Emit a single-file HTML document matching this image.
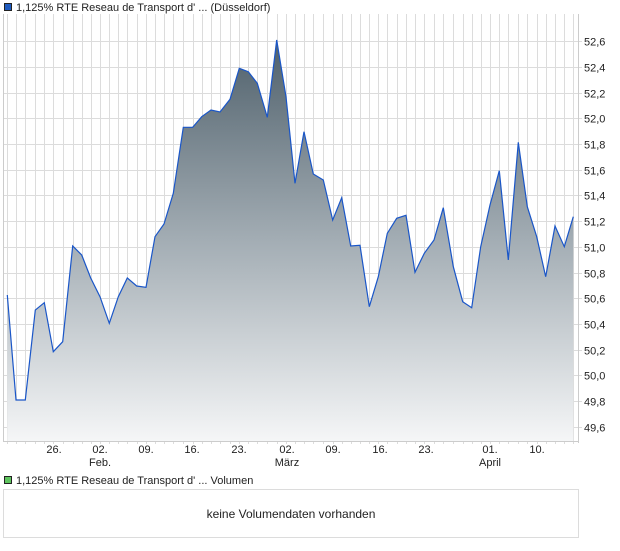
<!DOCTYPE html>
<html><head><meta charset="utf-8"><style>
body{margin:0;background:#fff;width:620px;height:546px;overflow:hidden;font-family:"Liberation Sans",sans-serif;}
</style></head><body>
<svg width="620" height="546" xmlns="http://www.w3.org/2000/svg" font-family="Liberation Sans, sans-serif">
<defs>
<linearGradient id="g" x1="0" y1="40" x2="0" y2="441" gradientUnits="userSpaceOnUse">
<stop offset="0" stop-color="#4f606b"/>
<stop offset="0.5" stop-color="#a3adb4"/>
<stop offset="1" stop-color="#f5f6f7"/>
</linearGradient>
</defs>
<rect x="4.5" y="3.5" width="7" height="7" fill="#1f5bbf" stroke="#222" stroke-width="1"/>
<text x="16" y="11" font-size="11" fill="#222">1,125% RTE Reseau de Transport d' ... (Düsseldorf)</text>
<g stroke="#dcdcdc" stroke-width="1" id="grid"></g>
<polygon id="area" fill="url(#g)"/>
<polyline id="line" fill="none" stroke="#1a56c8" stroke-width="1.2"/>
<line x1="3.5" y1="14" x2="3.5" y2="441" stroke="#ccc"/>
<line x1="578.5" y1="14" x2="578.5" y2="443" stroke="#ccc"/>
<line x1="3" y1="441.5" x2="579" y2="441.5" stroke="#ccc"/>
<g id="yl" font-size="11" fill="#222"></g>
<g id="xl" font-size="11" fill="#222" text-anchor="middle">
<text x="54" y="453">26.</text>
<text x="100" y="453">02.</text><text x="100" y="466">Feb.</text>
<text x="146" y="453">09.</text>
<text x="192" y="453">16.</text>
<text x="239" y="453">23.</text>
<text x="287" y="453">02.</text><text x="287" y="466">März</text>
<text x="333" y="453">09.</text>
<text x="380" y="453">16.</text>
<text x="426" y="453">23.</text>
<text x="490" y="453">01.</text><text x="490" y="466">April</text>
<text x="537" y="453">10.</text>
</g>
<rect x="4.5" y="476.5" width="7" height="7" fill="#5ec45e" stroke="#222" stroke-width="1"/>
<text x="16" y="484" font-size="11" fill="#222">1,125% RTE Reseau de Transport d' ... Volumen</text>
<rect x="3.5" y="489.5" width="575" height="48" fill="#fff" stroke="#dcdcdc"/>
<text x="291" y="518" font-size="12" fill="#222" text-anchor="middle">keine Volumendaten vorhanden</text>
</svg>
<script>
var pts=[[7.3,295],[16,400],[25.3,400],[35.3,310],[44.3,302.7],[53.3,351.7],[62.7,341.7],[72.7,246],[81.7,255],[90.7,278],[100,296.7],[109.3,323.3],[118.3,296.7],[127.3,278],[136.7,286],[146,287.3],[155,236.7],[164,224],[173.3,193.3],[183.3,127.3],[192.7,127.3],[201.7,116.7],[211,110],[220,112],[230,99.3],[239.3,68.3],[248.3,71.7],[257.3,83.3],[267.3,117.3],[276.7,40],[286,96.7],[295,183.3],[304,131.7],[313.3,174],[323.3,180],[332.7,220],[341.7,197.7],[350.7,246],[360,245.3],[369.3,306.7],[378.3,276.7],[387.3,233.3],[396.7,218.3],[406,215.3],[415,272.3],[424.3,253.3],[434,240],[443.3,207.7],[453.3,266.7],[462.7,301.7],[471.7,307.7],[480.7,246.7],[490,205],[499.3,170.7],[508.3,260],[518.3,142.3],[527.3,206.7],[536.7,236.7],[545.7,276.7],[555,226],[564.3,246.7],[573.3,216.7]];
var s=pts.map(p=>p.join(',')).join(' ');
document.getElementById('line').setAttribute('points',s);
document.getElementById('area').setAttribute('points','7.3,441 '+s+' 573.3,441');
var NS="http://www.w3.org/2000/svg",g=document.getElementById('grid'),yl=document.getElementById('yl');
for(var i=0;i<=15;i++){var y=Math.round(41.2+i*25.7)+0.5;var l=document.createElementNS(NS,'line');l.setAttribute('x1',3);l.setAttribute('x2',582);l.setAttribute('y1',y);l.setAttribute('y2',y);g.appendChild(l);
var t=document.createElementNS(NS,'text');t.setAttribute('x',584);t.setAttribute('y',y+4);t.textContent=(52.6-i*0.2).toFixed(1).replace('.',',');yl.appendChild(t);}
for(var i=0;i<pts.length;i++){var x=Math.round(pts[i][0])+0.5;var l=document.createElementNS(NS,'line');l.setAttribute('x1',x);l.setAttribute('x2',x);l.setAttribute('y1',14);l.setAttribute('y2',444);g.appendChild(l);}
</script>
</body></html>
